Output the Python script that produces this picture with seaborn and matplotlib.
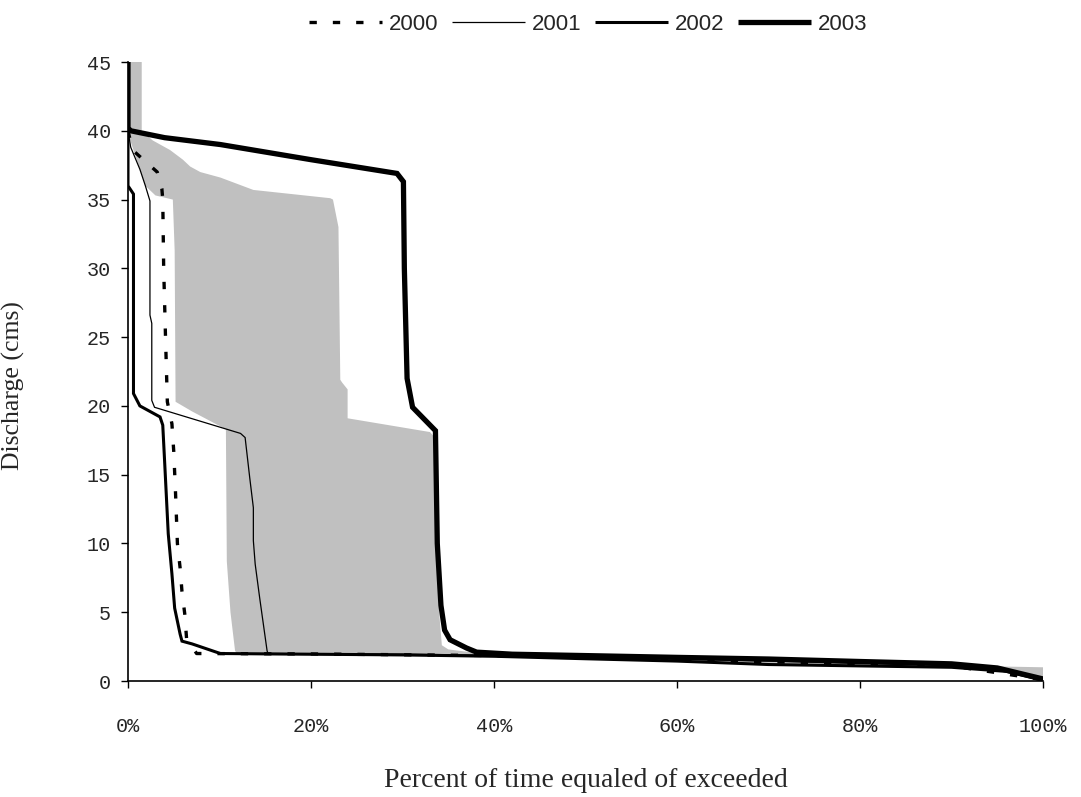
import numpy as np
import pandas as pd
import matplotlib
matplotlib.use("Agg")
import matplotlib.pyplot as plt
import seaborn as sns

# Flow duration curves: percent of time a discharge is equaled or exceeded
years = ["2000", "2001", "2002", "2003"]

pct_2000 = [0.0, 0.5, 3.2, 3.7, 3.8, 3.9, 4.1, 4.3, 4.8, 5.0, 5.2, 5.4, 5.7, 5.9, 6.2, 6.4, 7.5,
            20.0, 40.0, 60.0, 80.0, 90.0, 100.0]
q_2000 = [40.0, 38.6, 37.0, 35.8, 35.0, 30.0, 25.0, 20.3, 18.7, 16.7, 13.6, 10.0, 8.2, 6.5, 4.9, 3.1, 2.0,
          1.97, 1.85, 1.55, 1.25, 1.1, 0.1]

pct_2001 = [0.0, 0.3, 1.3, 1.9, 2.4, 2.4, 2.6, 2.6, 2.9, 12.3, 12.8, 13.3, 13.7, 13.7, 13.9, 14.4, 14.8,
            15.2, 15.3, 30.0, 40.0, 50.0, 60.0, 70.0, 80.0, 90.0, 96.0, 100.0]
q_2001 = [40.0, 38.8, 37.2, 36.0, 34.9, 26.6, 26.0, 20.4, 19.9, 18.0, 17.7, 14.8, 12.6, 10.2, 8.5, 6.0, 4.1,
          2.2, 2.0, 1.95, 1.88, 1.75, 1.6, 1.45, 1.3, 1.15, 0.8, 0.1]

pct_2002 = [0.0, 0.0, 0.6, 0.6, 1.3, 3.5, 3.8, 4.0, 4.4, 4.8, 5.1, 5.7, 5.9, 7.0, 10.1,
            20.0, 30.0, 40.0, 50.0, 60.0, 70.0, 80.0, 90.0, 96.0, 100.0]
q_2002 = [40.5, 36.0, 35.4, 20.9, 20.0, 19.2, 18.6, 16.0, 10.7, 7.8, 5.3, 3.4, 2.9, 2.7, 2.0,
          1.95, 1.9, 1.8, 1.62, 1.45, 1.2, 1.1, 1.0, 0.7, 0.05]

pct_2003 = [0.0, 0.0, 0.3, 4.0, 10.1, 20.0, 29.4, 30.1, 30.2, 30.5, 31.1, 33.6, 33.8, 34.2, 34.6, 35.2,
            37.0, 38.1, 42.0, 50.0, 60.0, 70.0, 80.0, 90.0, 95.0, 100.0]
q_2003 = [45.0, 40.2, 40.0, 39.5, 39.0, 37.9, 36.9, 36.3, 30.0, 22.0, 19.9, 18.2, 10.0, 5.5, 3.7, 3.0,
          2.4, 2.1, 1.95, 1.85, 1.72, 1.6, 1.42, 1.25, 0.95, 0.15]

# Shaded envelope of the long-term record: upper and lower edges
env_hi_pct = [0.0, 1.5, 1.5, 2.7, 4.6, 6.0, 6.8, 7.9, 10.1, 13.7, 22.1, 22.4, 23.0, 23.2, 23.4, 24.0,
              24.0, 33.0, 33.8, 33.8, 34.0, 34.3, 35.0, 38.0, 60.0, 90.0, 96.0, 100.0]
env_hi_q = [45.0, 45.0, 40.0, 39.3, 38.6, 37.9, 37.4, 37.0, 36.6, 35.7, 35.1, 35.0, 33.0, 21.9, 21.7, 21.2,
            19.1, 18.1, 17.5, 10.0, 5.0, 2.6, 2.3, 2.05, 1.7, 1.2, 1.05, 1.0]
env_lo_pct = [0.0, 1.3, 1.9, 3.0, 4.9, 5.1, 5.2, 7.0, 10.7, 10.8, 11.2, 11.7, 12.0, 40.0, 60.0, 80.0, 96.0, 100.0]
env_lo_q = [39.8, 37.2, 36.0, 35.3, 35.0, 31.3, 20.3, 19.6, 18.3, 8.7, 5.0, 2.2, 1.9, 1.75, 1.4, 1.1, 0.9, 0.2]

x_ticks = [0, 20, 40, 60, 80, 100]
x_tick_labels = ["0%", "20%", "40%", "60%", "80%", "100%"]
y_ticks = [0, 5, 10, 15, 20, 25, 30, 35, 40, 45]

series = {
    "2000": (pct_2000, q_2000),
    "2001": (pct_2001, q_2001),
    "2002": (pct_2002, q_2002),
    "2003": (pct_2003, q_2003),
}
frames = []
for yr in years:
    p, q = series[yr]
    frames.append(pd.DataFrame({"year": yr, "pct": p, "q": q, "order": np.arange(len(p))}))
df = pd.concat(frames, ignore_index=True)

styles = {
    "2000": dict(lw=2.4, ls=(0, (2.2, 4.8))),
    "2001": dict(lw=0.9, ls="-"),
    "2002": dict(lw=2.2, ls="-"),
    "2003": dict(lw=3.8, ls="-"),
}

sns.set_style("ticks")
fig = plt.figure(figsize=(10.81, 7.97), dpi=100)
ax = fig.add_axes([0.1184, 0.1455, 0.8465, 0.7767])

ax.fill(env_hi_pct + env_lo_pct[::-1], env_hi_q + env_lo_q[::-1],
        color="#c0c0c0", lw=0, zorder=1)

for yr in years:
    sub = df[df["year"] == yr].sort_values("order")
    st = styles[yr]
    sns.lineplot(data=sub, x="pct", y="q", sort=False, estimator=None, ax=ax,
                 color="black", linewidth=st["lw"], linestyle=st["ls"], label=yr,
                 zorder=3, solid_joinstyle="miter", solid_capstyle="butt")

ax.set_xlim(0, 100)
ax.set_ylim(0, 45)
ax.set_xticks(x_ticks)
ax.set_xticklabels(x_tick_labels)
ax.set_yticks(y_ticks)

for lab in ax.get_xticklabels() + ax.get_yticklabels():
    lab.set_fontfamily(["Liberation Mono", "DejaVu Sans Mono"])
    lab.set_fontsize(14.5)
ax.tick_params(axis="x", direction="out", length=5, width=1, pad=21, color="black")
ax.tick_params(axis="y", direction="out", length=5, width=1, pad=7, color="black")

for side in ["top", "right"]:
    ax.spines[side].set_visible(False)
for side in ["left", "bottom"]:
    ax.spines[side].set_color("black")
    ax.spines[side].set_linewidth(1.2)

ax.set_xlabel("Percent of time equaled of exceeded", family="Liberation Serif", fontsize=20)
ax.set_ylabel("Discharge (cms)", family="Liberation Serif", fontsize=18.5)
ax.xaxis.set_label_coords(0.5, -0.14)
ax.yaxis.set_label_coords(-0.113, 0.478)

leg = ax.legend(loc="center", bbox_to_anchor=(0.544, 0.969), bbox_transform=fig.transFigure,
                ncol=4, frameon=False, handlelength=3.3, handletextpad=0.3, columnspacing=0.6,
                prop=dict(family=["Liberation Sans", "DejaVu Sans"], size=16))

fig.savefig("out.png", dpi=100, facecolor="white")
